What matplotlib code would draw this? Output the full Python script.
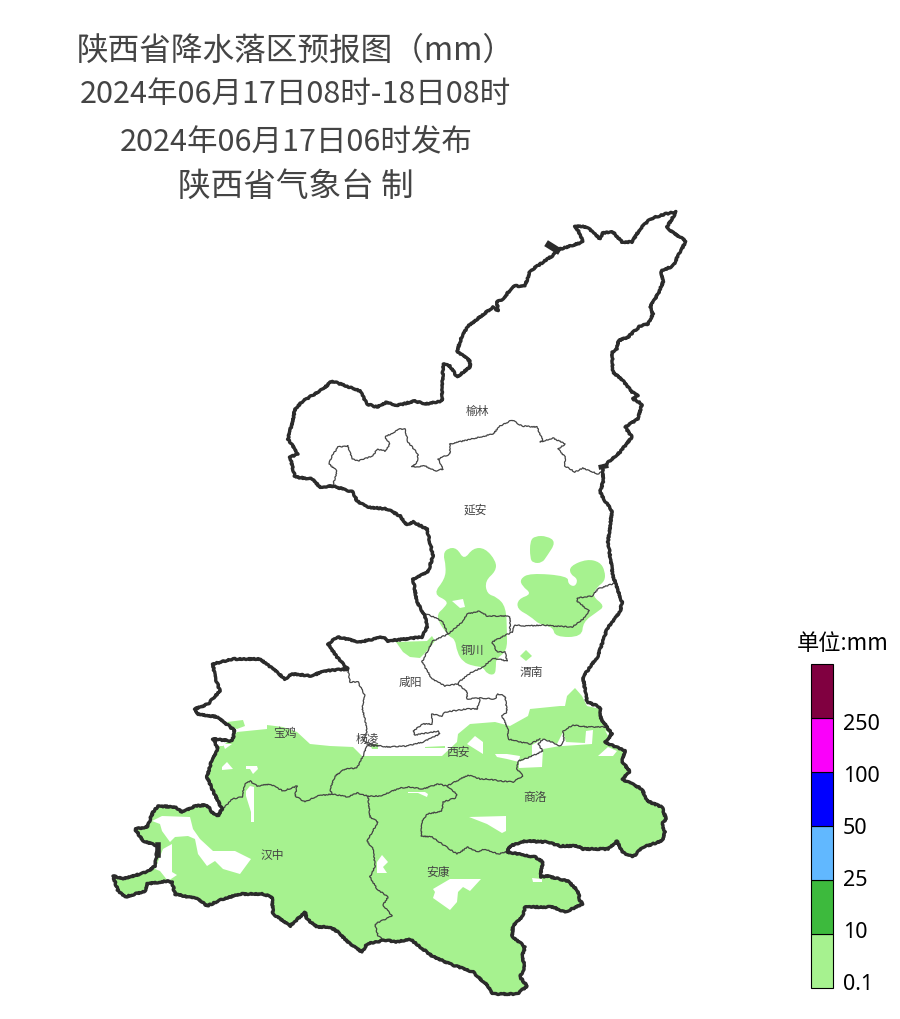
import matplotlib
matplotlib.use('Agg')
import matplotlib.pyplot as plt
from matplotlib.patches import Polygon, PathPatch
from matplotlib.path import Path

plt.rcParams['font.family'] = ['Noto Sans CJK SC', 'DejaVu Sans']

# 图像像素坐标下描出的边界
outline = [(557,251),(583,243),(580,235),(575,227),(587,228),(600,240),(603,234),(613,233),(622,243),(632,243),
    (640,230),(650,220),(665,215),(676,213),(667,228),(672,233),(686,242),(678,257),(673,267),(661,272),
    (663,283),(658,295),(650,308),(653,315),(648,325),(640,327),(628,338),(618,342),(617,350),(612,353),
    (613,373),(623,382),(632,393),(638,397),(633,400),(642,405),(638,420),(625,428),(632,438),(620,453),
    (603,468),(603,483),(600,493),(605,502),(612,512),(608,543),(613,577),(622,603),(620,613),(607,630),
    (598,657),(583,678),(587,703),(600,708),(601,720),(612,735),(605,743),(625,752),(622,762),(630,773),
    (622,780),(642,790),(647,802),(662,808),(666,820),(662,825),(665,833),(662,842),(643,848),(633,858),
    (622,853),(617,842),(608,850),(583,850),(577,847),(560,847),(547,843),(525,842),(510,847),(507,853),
    (535,858),(543,863),(540,878),(547,877),(568,882),(578,892),(580,902),(583,905),(565,913),(553,908),
    (525,908),(523,917),(513,927),(512,937),(525,948),(522,958),(525,967),(520,978),(527,987),(517,995),
    (492,995),(488,987),(473,973),(450,965),(432,957),(410,940),(397,943),(385,941),(367,945),(362,953),
    (350,945),(338,933),(330,928),(317,928),(307,920),(305,913),(290,927),(273,915),(272,898),(263,895),
    (240,895),(223,900),(207,907),(198,900),(175,895),(172,883),(167,882),(147,885),(145,892),(125,898),
    (118,892),(113,877),(123,880),(147,873),(155,867),(157,853),(158,847),(143,842),(135,830),(147,828),
    (153,813),(158,807),(175,808),(182,813),(195,807),(207,806),(212,813),(218,817),(222,810),(213,792),
    (207,778),(212,760),(218,750),(213,740),(232,742),(235,732),(218,718),(197,715),(195,710),(208,705),
    (220,692),(215,678),(213,665),(233,660),(260,660),(273,670),(285,680),(292,675),(313,677),(322,672),
    (348,670),(337,658),(328,645),(337,638),(360,643),(383,638),(388,642),(422,638),(427,628),(425,617),
    (417,603),(413,580),(428,573),(433,557),(427,530),(413,523),(407,526),(400,517),(387,510),(367,508),
    (357,502),(353,493),(333,487),(320,488),(312,480),(295,478),(290,458),(298,455),(288,440),(293,420),
    (295,410),(303,402),(323,390),(332,382),(360,392),(367,405),(377,408),(387,403),(395,407),(415,402),
    (425,405),(442,402),(443,365),(450,367),(457,378),(470,368),(470,362),(457,352),(462,337),(468,327),
    (493,308),(498,312),(497,303),(503,300),(513,287),(525,287),(530,272),(552,257)]

city_lines = [
    [(333,486),(337,472),(329,465),(332,457),(338,448),(348,447),(352,460),(358,462),(373,457),(377,450),
     (385,452),(390,445),(385,438),(400,430),(405,430),(408,443),(418,455),(417,463),(412,468),(425,467),
     (435,472),(443,470),(438,460),(450,455),(450,445),(463,442),(493,435),(500,427),(512,421),(522,427),
     (537,428),(543,442),(540,443),(553,439),(565,445),(558,450),(565,458),(565,467),(575,473),(583,469),
     (598,475),(603,472)],
    [(615,584),(598,590),(592,597),(577,599),(577,602),(589,612),(583,620),(572,628),(553,627),(543,626),
     (527,627),(515,626),(512,633)],
    [(510,632),(510,618),(505,617),(487,617),(480,612),(467,615),(462,623),(448,635),(442,622),(427,615)],
    [(448,635),(433,642),(427,653),(422,663),(432,680),(445,687),(458,685)],
    [(512,633),(492,643),(497,653),(505,653),(507,662),(493,659),(483,668),(472,673),(460,682),(458,685),
     (467,693),(467,700),(480,699),(495,700),(498,695),(505,697),(507,713),(502,717),(508,730),(508,740),
     (530,745),(540,740)],
    [(608,728),(587,728),(573,726),(563,732),(564,742),(560,747),(552,743),(543,740),(538,745),(543,752),
     (530,758),(518,762),(517,770),(523,777),(513,783),(500,782),(488,780),(480,780),(468,776),(447,787),
     (457,795),(455,799),(443,803),(442,812),(427,815),(422,823),(421,837),(432,838),(445,847),(457,855),
     (468,848),(477,853),(485,850),(498,855),(507,853)],
    [(447,787),(438,785),(423,790),(410,788),(400,789),(380,797),(368,797),(357,794),(348,798),(332,795),
     (317,797),(305,803),(295,797),(297,787),(283,792),(270,785),(257,787),(250,782),(245,785),(242,798),
     (232,800),(223,810)],
    [(368,797),(370,818),(378,823),(367,842),(373,850),(375,867),(370,878),(377,890),(388,898),(383,906),
     (392,917),(375,925),(378,937),(385,942)],
    [(332,795),(330,790),(335,777),(345,770),(357,769),(363,757),(367,747),(378,747),(363,742),(367,733),
     (365,720),(362,708),(365,697),(358,683),(350,683),(348,671)],
    [(367,745),(388,748),(407,747),(423,743),(440,735),(438,732),(415,736),(413,732),(423,725),(432,725),
     (432,715),(442,717),(445,713),(467,710),(477,710),(480,700)],
]

# 降水落区
rain_main = [(100,747),(223,747),(237,733),(267,730),(267,726),(283,728),(297,733),(310,745),(330,747),(353,748),
    (362,757),(400,757),(442,757),(457,743),(458,735),(470,725),(495,723),(510,727),(528,717),(530,710),
    (560,707),(565,707),(567,697),(575,689),(582,697),(587,707),(610,712),(700,712),(700,1010),(100,1010)]
rain_round = [
    [(443,555),(448,549),(457,549),(464,561),(473,549),(485,549),(496,562),(496,572),(485,582),(487,595),
     (497,598),(506,608),(507,633),(507,652),(496,660),(496,667),(495,676),(487,675),(483,668),(473,667),
     (463,663),(457,653),(455,640),(448,637),(435,617),(445,608),(448,602),(433,595),(445,580),(446,567)],
    [(530,542),(535,537),(547,537),(556,543),(547,557),(542,564),(533,564),(530,559)],
    [(520,580),(530,574),(568,577),(568,585),(575,588),(578,580),(570,575),(570,567),(587,560),(600,563),
     (605,572),(605,582),(597,588),(592,597),(605,607),(597,613),(583,623),(582,638),(555,638),(553,628),
     (540,626),(530,617),(517,610),(518,600),(532,595),(522,587)],
]
rain_patches = [
    [(396,643),(427,642),(432,637),(435,642),(427,652),(420,659),(410,658),(403,653)],
    [(520,657),(526,651),(532,657),(526,662)],
    [(227,723),(243,721),(245,727),(237,730),(232,728)],
    [(425,748),(445,747),(445,749),(425,749)],
    [(370,745),(378,745),(378,750),(372,750)],
]
rain_holes = [
    [(452,602),(463,600),(465,608),(460,609)],
    [(495,755),(507,755),(520,757),(519,763),(507,760),(497,758)],
    [(467,745),(475,737),(483,743),(483,755),(475,750)],
    [(532,746),(543,740),(552,743),(557,745),(563,733),(566,743),(585,744),(586,732),(593,731),(592,745),
     (563,747),(560,747),(543,750),(542,768),(519,769),(519,763),(532,757)],
    [(598,757),(608,748),(617,752),(613,757)],
    [(605,731),(610,735),(608,737)],
    [(469,818),(506,817),(506,832),(502,834),(487,825)],
    [(408,793),(425,793),(428,795),(427,798),(418,794),(408,794)],
    [(377,863),(382,856),(388,863),(383,868),(387,874),(377,874)],
    [(433,890),(450,880),(481,880),(470,892),(463,888),(458,893),(457,903),(450,911),(433,899),(435,893)],
    [(532,879),(542,880),(542,883),(533,883)],
    [(222,768),(227,763),(233,770),(222,771)],
    [(246,767),(257,767),(258,770),(253,775),(250,770),(246,770)],
    [(250,787),(246,792),(246,797),(251,813),(251,823),(254,823),(254,788)],
    [(152,822),(162,817),(190,818),(193,830),(200,840),(213,852),(235,852),(251,860),(240,875),(223,870),
     (215,862),(207,867),(198,855),(195,840),(188,837),(175,838),(170,843),(162,832),(160,825)],
    [(163,850),(172,845),(172,873),(177,876),(168,882),(160,872),(155,870)],
    [(223,745),(232,745),(225,750)],
]

city_names = ['榆林', '延安', '铜川', '渭南', '咸阳', '宝鸡', '杨凌', '西安', '商洛', '汉中', '安康']
city_x = [477, 475, 472, 531, 410, 285, 367, 458, 535, 272, 438]
city_y = [411, 510, 650, 673, 682, 733, 739, 752, 798, 856, 872]

level_labels = ['0.1', '10', '25', '50', '100', '250']
level_colors = ['#A6F28F', '#3DBA3D', '#61B8FF', '#0000FF', '#FA00FA', '#800040']


def rounded_path(poly):
    # 以各边中点为节点，顶点作控制点，把折角磨圆
    n = len(poly)
    mids = [((poly[i][0] + poly[(i + 1) % n][0]) / 2, (poly[i][1] + poly[(i + 1) % n][1]) / 2) for i in range(n)]
    verts = [mids[-1]]
    codes = [Path.MOVETO]
    for i in range(n):
        verts += [poly[i], mids[i]]
        codes += [Path.CURVE3, Path.CURVE3]
    return Path(verts, codes)


fig = plt.figure(figsize=(9, 10.2), dpi=100)
ax = fig.add_axes([0, 0, 1, 1])
ax.set_xlim(0, 900)
ax.set_ylim(1020, 0)
ax.axis('off')

province = Polygon(outline, closed=True, fc='none', ec='none', transform=ax.transData)
ax.add_patch(province)

# 落区填色，裁剪到省界内
for poly in [rain_main] + rain_patches:
    xs, ys = zip(*poly)
    for p in ax.fill(xs, ys, color=level_colors[0], lw=0, zorder=2):
        p.set_clip_path(province)
for poly in rain_round:
    p = PathPatch(rounded_path(poly), fc=level_colors[0], ec='none', zorder=2)
    ax.add_patch(p)
    p.set_clip_path(province)
for poly in rain_holes:
    xs, ys = zip(*poly)
    for p in ax.fill(xs, ys, color='white', lw=0, zorder=3):
        p.set_clip_path(province)

for seg in city_lines:
    xs, ys = zip(*seg)
    line, = ax.plot(xs, ys, color='#444444', lw=0.9, zorder=4)
    line.set_sketch_params(scale=0.5, length=4, randomness=4)

xs, ys = zip(*(outline + outline[:1]))
line, = ax.plot(xs, ys, color='#2b2b2b', lw=2.4, zorder=5, solid_joinstyle='round')
line.set_sketch_params(scale=0.6, length=4, randomness=4)
# 边界上几处粗点
ax.plot([549, 557], [246, 251], color='#2b2b2b', lw=5, zorder=5)
ax.plot([601, 606], [468, 467], color='#2b2b2b', lw=3.5, zorder=5)
ax.plot([158, 158], [846, 856], color='#2b2b2b', lw=4, zorder=5)

for name, x, y in zip(city_names, city_x, city_y):
    ax.text(x, y, name, ha='center', va='center', fontsize=8.5, color='#444444', zorder=6)

title_color = '#444444'
ax.text(296, 51, '陕西省降水落区预报图（mm）', ha='center', va='center', fontsize=22.8, color=title_color)
ax.text(295, 94, '2024年06月17日08时-18日08时', ha='center', va='center', fontsize=22, color=title_color)
ax.text(296, 142, '2024年06月17日06时发布', ha='center', va='center', fontsize=22, color=title_color)
ax.text(296, 187, '陕西省气象台 制', ha='center', va='center', fontsize=23.5, color=title_color)

# 色标
cax = fig.add_axes([811 / 900, 1 - 989 / 1020, 22 / 900, 324 / 1020])
bars = cax.bar([0] * 6, [1] * 6, bottom=range(6), width=1, color=level_colors, edgecolor='black',
               linewidth=0.8, align='edge')
for b in bars:
    b.set_clip_on(False)
cax.set_xlim(0, 1)
cax.set_ylim(0, 6)
cax.axis('off')

for i, lab in enumerate(level_labels):
    ax.text(843, 984.5 - i * 52, lab, ha='left', va='center', fontsize=15.5, color='black',
            family=['Noto Sans', 'DejaVu Sans'])
ax.text(843, 644, '单位:mm', ha='center', va='center', fontsize=16, color='black')

fig.savefig('out.png', dpi=100)
